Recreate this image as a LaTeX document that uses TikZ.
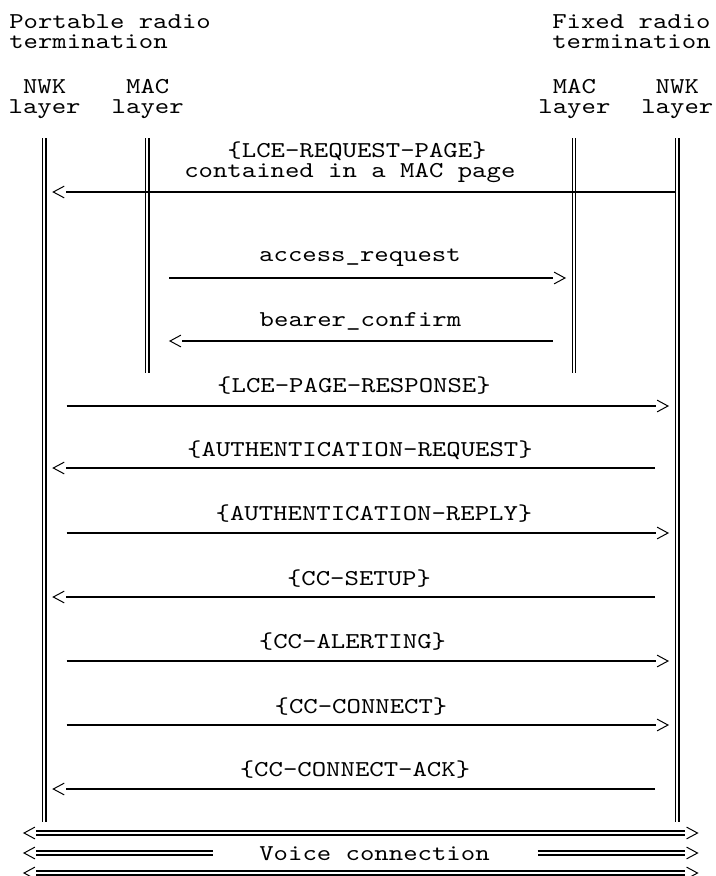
\documentclass[tikz,border=0pt]{standalone}
\usepackage{fontspec}
\setmonofont{lmmono10-regular.otf}[FakeStretch=1.21]
\pgfdeclarearrow{
  name = Chev,
  setup code = {
    \pgfarrowssettipend{0pt}
    \pgfarrowssetlineend{-9.3pt}
    \pgfarrowssetvisualbackend{-8.2pt}
    \pgfarrowssetbackend{-9.3pt}
  },
  drawing code = {
    \pgfsetlinewidth{0.75pt}
    \pgfsetinnerlinewidth{0pt}
    \pgfsetdash{}{0pt}
    \pgfpathmoveto{\pgfqpoint{-8.2pt}{4.4pt}}
    \pgfpathlineto{\pgfqpoint{0pt}{0pt}}
    \pgfpathlineto{\pgfqpoint{-8.2pt}{-4.4pt}}
    \pgfusepathqstroke
  }
}
\tikzset{
  lbl/.style={font=\ttfamily\fontsize{17}{15}\selectfont, inner sep=0pt, anchor=base},
  lblw/.style={lbl, anchor=base west, align=left},
  lblc/.style={lbl, align=center},
  life/.style={draw=black, line width=0.9pt, double=white, double distance=1.6pt},
  msg/.style={draw=black, line width=1.25pt, -Chev},
  voice/.style={draw=black, line width=1.1pt, double=white, double distance=2.1pt},
}
\begin{document}
\begin{tikzpicture}[x=0.75pt,y=-0.75pt]
\useasboundingbox (0,0) rectangle (716,876);
% headers (anchor base = baseline of last line)
\node[lblw] (pt) at (9,48) {Portable radio\\termination};
\node[lblw] (ft) at (552,48) {Fixed radio\\termination};
\node[lblc] (h1) at (44.6,113) {NWK\\layer};
\node[lblc] (h2) at (147.7,113) {MAC\\layer};
\node[lblc] (h3) at (574.4,113) {MAC\\layer};
\node[lblc] (h4) at (677.3,113) {NWK\\layer};
% lifelines
\coordinate (l1t) at (44.3,138);  \coordinate (l1b) at (44.3,822);
\coordinate (l2t) at (147.3,138); \coordinate (l2b) at (147.3,373);
\coordinate (l3t) at (574.2,138); \coordinate (l3b) at (574.2,373);
\coordinate (l4t) at (677.3,138); \coordinate (l4b) at (677.3,822);
\draw[life] (l1t) -- (l1b);
\draw[life] (l2t) -- (l2b);
\draw[life] (l3t) -- (l3b);
\draw[life] (l4t) -- (l4b);
% message 1
\node[lblw] (t1) at (184,177) {\hphantom{xxx}\{LCE-REQUEST-PAGE\}\\contained in a MAC page};
\coordinate (m1s) at (676,192); \coordinate (m1e) at (53.3,192);
\draw[msg] (m1s) -- (m1e);
% message 2
\node[lbl] (t2) at (360,261.7) {access\_request};
\coordinate (m2s) at (169.3,278); \coordinate (m2e) at (565,278);
\draw[msg] (m2s) -- (m2e);
% message 3
\node[lbl] (t3) at (360.5,326.7) {bearer\_confirm};
\coordinate (m3s) at (552.7,341); \coordinate (m3e) at (170,341);
\draw[msg] (m3s) -- (m3e);
% message 4
\node[lbl] (t4) at (354,392) {\{LCE-PAGE-RESPONSE\}};
\coordinate (m4s) at (66.7,406); \coordinate (m4e) at (668,406);
\draw[msg] (m4s) -- (m4e);
% message 5
\node[lbl] (t5) at (360,456.7) {\{AUTHENTICATION-REQUEST\}};
\coordinate (m5s) at (655,468); \coordinate (m5e) at (53.3,468);
\draw[msg] (m5s) -- (m5e);
% message 6
\node[lbl] (t6) at (374,520) {\{AUTHENTICATION-REPLY\}};
\coordinate (m6s) at (66.7,533); \coordinate (m6e) at (668,533);
\draw[msg] (m6s) -- (m6e);
% message 7
\node[lbl] (t7) at (359,585) {\{CC-SETUP\}};
\coordinate (m7s) at (655,597); \coordinate (m7e) at (53.3,597);
\draw[msg] (m7s) -- (m7e);
% message 8
\node[lbl] (t8) at (352.5,648) {\{CC-ALERTING\}};
\coordinate (m8s) at (66.7,661); \coordinate (m8e) at (668,661);
\draw[msg] (m8s) -- (m8e);
% message 9
\node[lbl] (t9) at (361,713) {\{CC-CONNECT\}};
\coordinate (m9s) at (66.7,725); \coordinate (m9e) at (668,725);
\draw[msg] (m9s) -- (m9e);
% message 10
\node[lbl] (t10) at (355,776.7) {\{CC-CONNECT-ACK\}};
\coordinate (m10s) at (655,789); \coordinate (m10e) at (53.3,789);
\draw[msg] (m10s) -- (m10e);
% voice connection
\coordinate (v1l) at (24,833); \coordinate (v1r) at (697.5,833);
\draw[voice, Chev-Chev] (v1l) -- (v1r);
\node[lbl] (vt) at (374.5,860) {Voice connection};
\coordinate (v2l) at (24,853); \coordinate (v2a) at (213,853);
\coordinate (v2b) at (537.7,853); \coordinate (v2r) at (697.5,853);
\draw[voice, Chev-] (v2l) -- (v2a);
\draw[voice, -Chev] (v2b) -- (v2r);
\coordinate (v3l) at (24,873); \coordinate (v3r) at (697.5,873);
\draw[voice, Chev-Chev] (v3l) -- (v3r);
\end{tikzpicture}
\end{document}
